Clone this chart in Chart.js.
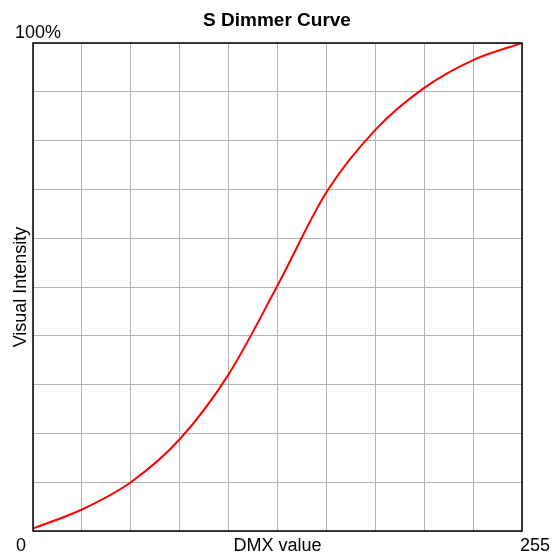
<!DOCTYPE html>
<html>
<head>
<meta charset="utf-8">
<script src="https://cdn.jsdelivr.net/npm/chart.js@4.4.0/dist/chart.umd.min.js"></script>
<style>
  html, body { margin: 0; padding: 0; background: #fff; }
  #wrap { width: 554px; height: 557px; }
</style>
</head>
<body>
<div id="wrap"><canvas id="myChart" width="554" height="557"></canvas></div>
<script>
const chartTitle = 'S Dimmer Curve'
const xTitle = 'DMX value'
const yTitle = 'Visual Intensity'
const xTickLabels = ['0', '255']
const yTickLabels = ['100%']

// DMX value -> visual intensity (%) at each grid line
const dmx = [0, 25.5, 51, 76.5, 102, 127.5, 153, 178.5, 204, 229.5, 255]
const intensity = [0.5, 4.4, 10, 18.8, 32.1, 50.3, 69.4, 82.2, 90.8, 96.5, 100]

const points = dmx.map((x, i) => ({ x: x, y: intensity[i] }))

const font = '"Liberation Sans", Arial, sans-serif'

// texts + frame round the plot
const labelsPlugin = {
  id: 'labels',
  afterDraw(chart) {
    const c = chart.ctx
    const a = chart.chartArea
    const xs = chart.scales.x
    c.save()
    c.strokeStyle = '#000'
    c.lineWidth = 1.5
    c.strokeRect(a.left, a.top, a.right - a.left, a.bottom - a.top)

    c.fillStyle = '#000'
    c.textBaseline = 'alphabetic'
    c.font = 'bold 19px ' + font
    c.textAlign = 'center'
    c.fillText(chartTitle, chart.width / 2, 26)

    c.font = '18px ' + font
    c.textAlign = 'left'
    c.fillText(yTickLabels[0], 15, 38)
    c.fillText(xTickLabels[0], xs.getPixelForValue(0) - 17, 551)
    c.fillText(xTickLabels[1], xs.getPixelForValue(255) - 2, 551)
    c.textAlign = 'center'
    c.fillText(xTitle, (a.left + a.right) / 2, 551)

    c.translate(26, (a.top + a.bottom) / 2)
    c.rotate(-Math.PI / 2)
    c.fillText(yTitle, 0, 0)
    c.restore()
  }
}

const config = {
  type: 'line',
  data: {
    datasets: [{
      data: points,
      borderColor: '#ff0000',
      borderWidth: 2,
      pointRadius: 0,
      fill: false,
      cubicInterpolationMode: 'monotone'
    }]
  },
  options: {
    responsive: false,
    animation: false,
    layout: { padding: { left: 33, top: 43, right: 32, bottom: 26 } },
    plugins: {
      legend: { display: false },
      tooltip: { enabled: false },
      title: { display: false }
    },
    scales: {
      x: {
        type: 'linear',
        min: 0,
        max: 255,
        ticks: { display: false, stepSize: 25.5 },
        grid: { color: '#b4b4b4', lineWidth: 1, drawTicks: false },
        border: { display: false }
      },
      y: {
        min: 0,
        max: 100,
        ticks: { display: false, stepSize: 10 },
        grid: { color: '#b4b4b4', lineWidth: 1, drawTicks: false },
        border: { display: false }
      }
    }
  },
  plugins: [labelsPlugin]
}

const myChart = new Chart(document.getElementById('myChart'), config)
</script>
</body>
</html>
